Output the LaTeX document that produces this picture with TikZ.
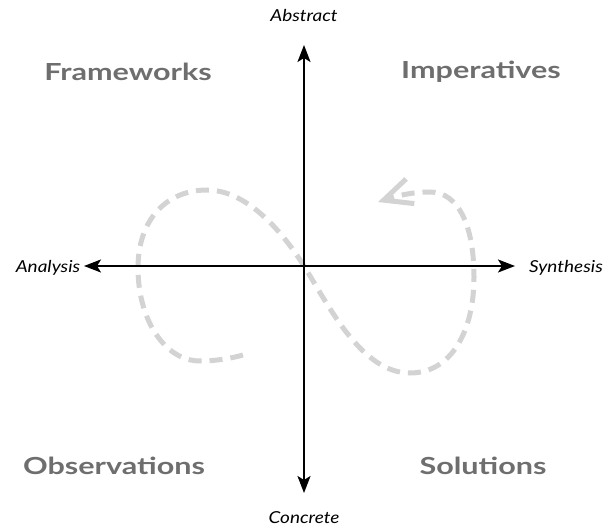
\documentclass[tikz,border=0pt]{standalone}
\usepackage{fontspec}
\setmainfont{Lato}
\newfontfamily\quadfont[FakeStretch=1.3]{Lato}
\newfontfamily\axfont[FakeStretch=1.15]{Lato}
\usetikzlibrary{arrows.meta}
\definecolor{labgray}{HTML}{6E6E6E}
\definecolor{loopgray}{HTML}{D3D3D3}
\tikzset{
  axis/.style={line width=2pt, {Stealth[length=17pt,width=13pt,inset=4pt]}-{Stealth[length=17pt,width=13pt,inset=4pt]}},
  axlabel/.style={font=\axfont\fontsize{16.5}{18}\selectfont\itshape, text=black, inner sep=0pt},
  quadlabel/.style={font=\quadfont\fontsize{23.5}{26}\selectfont\bfseries, text=labgray, inner sep=0pt},
  loop/.style={line width=5pt, draw=loopgray, dash pattern=on 13pt off 8pt,
    -{Straight Barb[length=28pt,width=26pt,line width=5pt]}}
}
\begin{document}
\begin{tikzpicture}[x=1pt,y=-1pt]
\useasboundingbox (0,0) rectangle (604,529);
\coordinate (o) at (304,266);
\coordinate (top) at (304,45);
\coordinate (bot) at (304,493);
\coordinate (lft) at (84,266);
\coordinate (rgt) at (515,266);
% loop curve
\coordinate (s) at (243,355);
\draw[loop] (s) .. controls (225,360) and (210,361) .. (200,361)
  .. controls (165,361) and (138,320) .. (138,268)
  .. controls (138,218) and (168,190) .. (207,190)
  .. controls (245,190) and (280,228) .. (o)
  .. controls (330,308) and (362,373) .. (410,373)
  .. controls (452,373) and (474,330) .. (474,277)
  .. controls (474,225) and (458,192) .. (430,192)
  .. controls (412,192) and (396,196) .. (378,202);
% axes
\draw[axis] (lft) -- (rgt);
\draw[axis] (bot) -- (top);
% labels
\node[axlabel] (abs) at (304,15) {Abstract};
\node[axlabel] (con) at (304,518) {Concrete};
\node[axlabel] (ana) at (48,268) {Analysis};
\node[axlabel] (syn) at (566,268) {Synthesis};
\node[quadlabel] (fw) at (128,72) {Frameworks};
\node[quadlabel] (imp) at (481,72) {Imperatives};
\node[quadlabel] (obs) at (114,466) {Observations};
\node[quadlabel] (sol) at (483,466) {Solutions};
\end{tikzpicture}
\end{document}
